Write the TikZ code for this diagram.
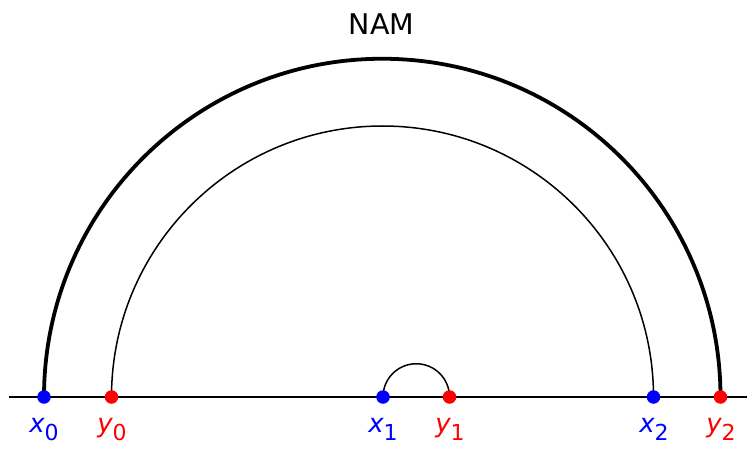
\documentclass[tikz,border=0pt]{standalone}
\usepackage{fontspec}
\newfontfamily\dv{DejaVu Sans}
\definecolor{pblue}{RGB}{0,0,255}
\definecolor{pred}{RGB}{255,0,0}
\newcommand{\lbl}[2]{{\dv\fontsize{26}{26}\selectfont\itshape #1}\raisebox{-8pt}{\dv\fontsize{22}{22}\selectfont #2}}
\begin{document}
\begin{tikzpicture}[x=1pt,y=1pt,
  dot/.style={circle,fill=#1,inner sep=0pt,minimum size=13.5pt},
  pointlabel/.style={text=#1,anchor=base,inner sep=0pt},
  thickarc/.style={line width=3.8pt},
  thinarc/.style={line width=1.5pt}]
\useasboundingbox (0,0) rectangle (747,448);
% points on the line
\coordinate (px0) at (44,51);
\coordinate (py0) at (111.5,51);
\coordinate (px1) at (383,51);
\coordinate (py1) at (449.5,51);
\coordinate (px2) at (653.5,51);
\coordinate (py2) at (720.5,51);
\coordinate (lineL) at (9,51);
\coordinate (lineR) at (747,51);
% baseline
\draw[line width=2pt] (lineL) -- (lineR);
% arcs
\draw[thickarc] (px0) arc[start angle=180,end angle=0,radius=338.25pt];
\draw[thinarc] (py0) arc[start angle=180,end angle=0,radius=271pt];
\draw[thinarc] (px1) arc[start angle=180,end angle=0,radius=33.25pt];
% dots
\foreach \p/\c in {px0/pblue,py0/pred,px1/pblue,py1/pred,px2/pblue,py2/pred}
  \node[dot=\c] (d\p) at (\p) {};
% labels
\node[pointlabel=pblue] (lx0) at (44,16) {\lbl{x}{0}};
\node[pointlabel=pred] (ly0) at (112,16) {\lbl{y}{0}};
\node[pointlabel=pblue] (lx1) at (383,16) {\lbl{x}{1}};
\node[pointlabel=pred] (ly1) at (450,16) {\lbl{y}{1}};
\node[pointlabel=pblue] (lx2) at (654,16) {\lbl{x}{2}};
\node[pointlabel=pred] (ly2) at (721,16) {\lbl{y}{2}};
% title
\node[anchor=base,inner sep=0pt] (title) at (381.5,413) {\dv\fontsize{28.5}{28.5}\selectfont NAM};
\end{tikzpicture}
\end{document}
